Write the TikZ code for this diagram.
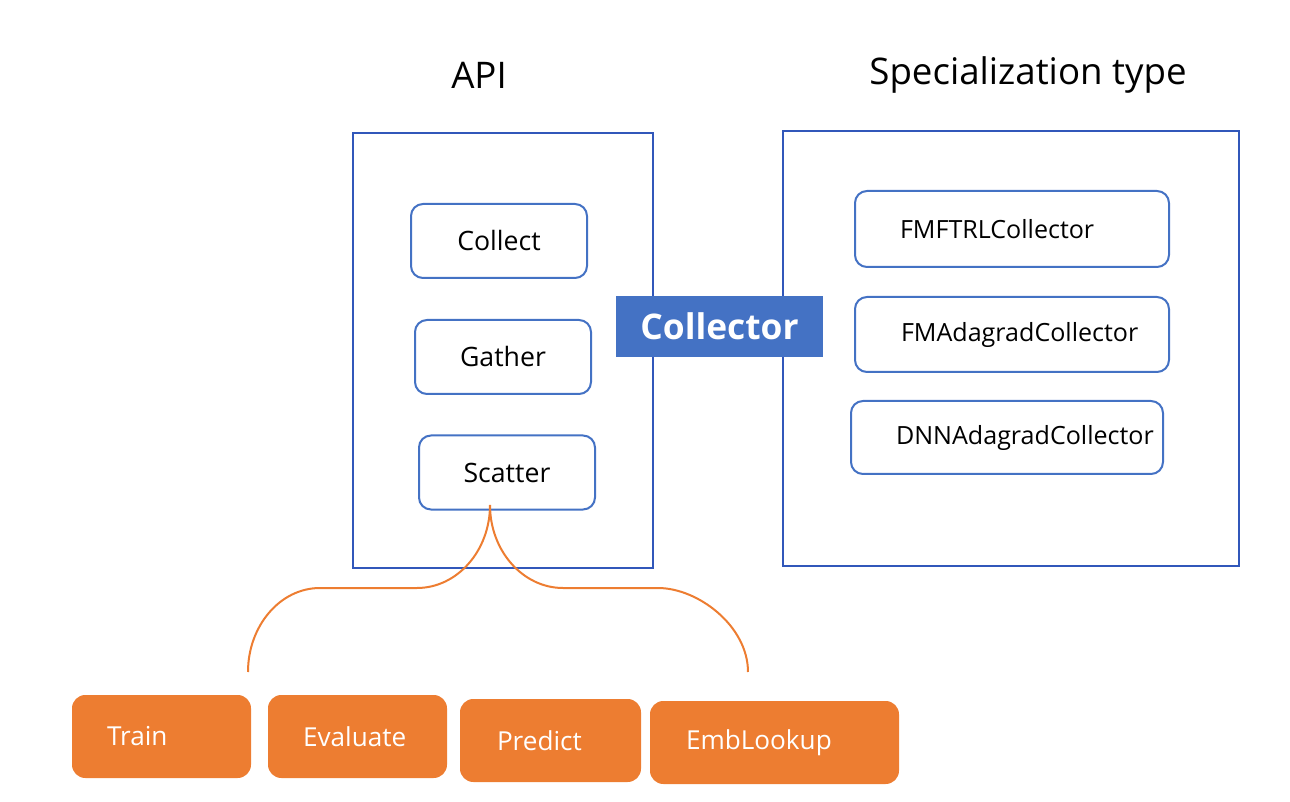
\documentclass[tikz,border=0pt]{standalone}
\usepackage{fontspec}
\setmainfont{Open Sans}
\definecolor{outerblue}{HTML}{3157BA}
\definecolor{innerblue}{HTML}{4472C4}
\definecolor{orng}{HTML}{ED7D31}
\begin{document}
\begin{tikzpicture}[x=0.75pt,y=-0.75pt,
  outerbox/.style={draw=outerblue,line width=1.5pt,inner sep=0pt},
  apibox/.style={draw=innerblue,line width=1.5pt,rounded corners=9pt,minimum width=132pt,minimum height=55.5pt,font=\fontsize{20}{24}\selectfont,inner sep=0pt},
  specbox/.style={draw=innerblue,line width=1.5pt,rounded corners=9pt,minimum height=56pt,align=left,font=\fontsize{18.8}{22}\selectfont,inner ysep=0pt},
  opbox/.style={fill=orng,rounded corners=10pt,minimum height=62.25pt,align=left,text=white,font=\fontsize{19.6}{23}\selectfont,inner ysep=0pt},
  title/.style={font=\fontsize{27.5}{32}\selectfont},
  brace/.style={draw=orng,line width=1.5pt}]
\useasboundingbox (0,0) rectangle (1290,802);
\node[title] (apititle) at (479,75) {API};
\node[title] (spectitle) at (1028,75) {Specialization type};
\node[outerbox,minimum width=225pt,minimum height=326.25pt] (api) at (503,350.5) {};
\node[outerbox,minimum width=342pt,minimum height=326.25pt] (spec) at (1011,348.5) {};
\node[apibox] (collect) at (499,241) {Collect};
\node[apibox] (gather) at (503,357) {Gather};
\node[apibox] (scatter) at (507,472.5) {Scatter};
\node[specbox,minimum height=57pt,text width=168pt,inner xsep=33.75pt] (fmftrl) at (1012,229) {FMFTRLCollector};
\node[specbox,minimum height=56.25pt,text width=166.5pt,inner xsep=34.5pt] (fmada) at (1012,334.5) {FMAdagradCollector};
\node[specbox,minimum height=54.75pt,text width=166.5pt,inner xsep=33.75pt] (dnnada) at (1007,437.5) {DNNAdagradCollector};
\node[fill=innerblue,text=white,minimum width=155.25pt,minimum height=45.75pt,inner sep=0pt,font=\fontsize{26.5}{30}\selectfont\bfseries] (collector) at (719.5,326.5) {Collector};
\node[opbox,text width=81.75pt,inner xsep=26.25pt] (train) at (161.5,736.5) {Train};
\node[opbox,text width=81.75pt,inner xsep=26.25pt] (evaluate) at (357.5,736.5) {Evaluate};
\node[opbox,text width=80.25pt,inner xsep=27.75pt] (predict) at (550.5,740.5) {Predict};
\node[opbox,text width=132.75pt,inner xsep=27pt] (emblookup) at (774.5,742.5) {EmbLookup};
\coordinate (top) at (490,505);
\coordinate (bl) at (248,672);
\coordinate (br) at (748,672);
\draw[brace] (top) .. controls (490,551) and (457,588) .. (417,588) -- (320,588) .. controls (280,588) and (248,626) .. (bl);
\draw[brace] (top) .. controls (490,551) and (523,588) .. (563,588) -- (658,588) .. controls (698,588) and (748,626) .. (br);
\end{tikzpicture}
\end{document}
